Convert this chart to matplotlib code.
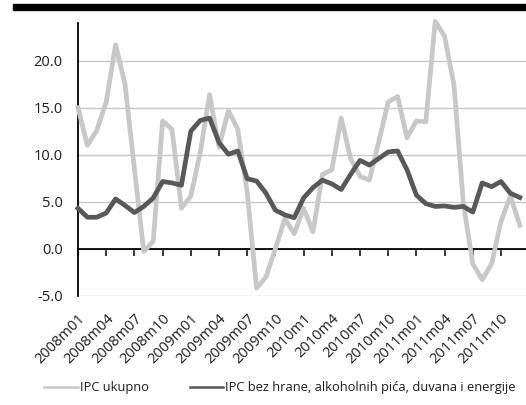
import numpy as np
import matplotlib
matplotlib.use("Agg")
from matplotlib import pyplot as plt
from matplotlib.patches import Rectangle

plt.rcParams['font.family'] = ['Open Sans', 'DejaVu Sans']
plt.rcParams['axes.unicode_minus'] = False

# monthly data, 2008m01 .. 2011m12
ipc_ukupno = [15.0, 11.0, 12.6, 15.6, 21.7, 17.5, 8.5, -0.3, 0.8, 13.6, 12.7, 4.3,
              5.6, 10.2, 16.4, 10.8, 14.7, 12.7, 6.0, -4.2, -3.0, 0.0, 3.2, 1.6,
              4.3, 1.8, 7.9, 8.4, 13.9, 9.6, 7.7, 7.3, 11.4, 15.6, 16.2, 11.8,
              13.6, 13.5, 24.2, 22.6, 17.4, 4.8, -1.6, -3.3, -1.6, 2.9, 5.6, 2.5]
ipc_bazna = [4.3, 3.35, 3.35, 3.8, 5.3, 4.6, 3.85, 4.5, 5.4, 7.15, 7.0, 6.75,
             12.5, 13.65, 13.9, 11.3, 10.05, 10.4, 7.45, 7.2, 5.9, 4.1, 3.6, 3.3,
             5.4, 6.5, 7.3, 6.9, 6.3, 7.9, 9.4, 8.9, 9.6, 10.3, 10.4, 8.4,
             5.7, 4.8, 4.5, 4.55, 4.4, 4.5, 3.9, 7.0, 6.6, 7.15, 5.9, 5.45]

tick_labels = ['2008m01', '2008m04', '2008m07', '2008m10',
               '2009m01', '2009m04', '2009m07', '2009m10',
               '2010m1', '2010m4', '2010m7', '2010m10',
               '2011m01', '2011m04', '2011m07', '2011m10']

legend_labels = ['IPC ukupno', 'IPC bez hrane, alkoholnih pića, duvana i energije']

light = '#c8c8c8'
dark = '#58585a'
txt = '#1e1c1d'

fig = plt.figure(figsize=(5.26, 4.05), dpi=100)
ax = fig.add_axes([78 / 526, 1 - 295.7 / 405, 448 / 526, 273 / 405])

x = np.arange(len(ipc_ukupno))
ax.plot(x, ipc_ukupno, color=light, lw=3.4, label=legend_labels[0], clip_on=False, zorder=3)
ax.plot(x, ipc_bazna, color=dark, lw=3.4, label=legend_labels[1], clip_on=False, zorder=4)

ax.set_xlim(0, 47.66)
ax.set_ylim(-5, 24.05)
ax.set_yticks([-5, 0, 5, 10, 15, 20])
ax.set_yticklabels(['%.1f' % v for v in [-5, 0, 5, 10, 15, 20]])
ax.yaxis.grid(True, color='#c8c8c8', lw=1)
ax.set_axisbelow(True)

ax.set_xticks(np.arange(0, 48, 3))
ax.set_xticklabels(tick_labels)

for s in ['top', 'right']:
    ax.spines[s].set_visible(False)
ax.spines['bottom'].set_position(('data', 0))
ax.spines['bottom'].set_linewidth(1.3)
ax.spines['left'].set_linewidth(1.3)
ax.spines['bottom'].set_zorder(2)

ax.tick_params(axis='y', length=0, pad=11, labelsize=10.5, labelcolor=txt)
ax.tick_params(axis='x', direction='out', length=5, width=1.1, pad=40,
               labelsize=10.5, labelcolor=txt, labelrotation=45)
plt.setp(ax.get_xticklabels(), ha='right', va='top', rotation_mode='anchor')

leg = ax.legend(loc='center', bbox_to_anchor=(280 / 526, 1 - 388 / 405),
                bbox_transform=fig.transFigure, ncol=2, frameon=False,
                fontsize=9.3, handlelength=2.6, handletextpad=0.15,
                columnspacing=3.2, labelcolor=txt)
for line in leg.get_lines():
    line.set_linewidth(1.8)

# black rule at top of the panel
fig.patches.append(Rectangle((13 / 526, 1 - 10 / 405), 513 / 526, 6 / 405,
                             transform=fig.transFigure, color='black'))

fig.savefig('out.png', dpi=100)
